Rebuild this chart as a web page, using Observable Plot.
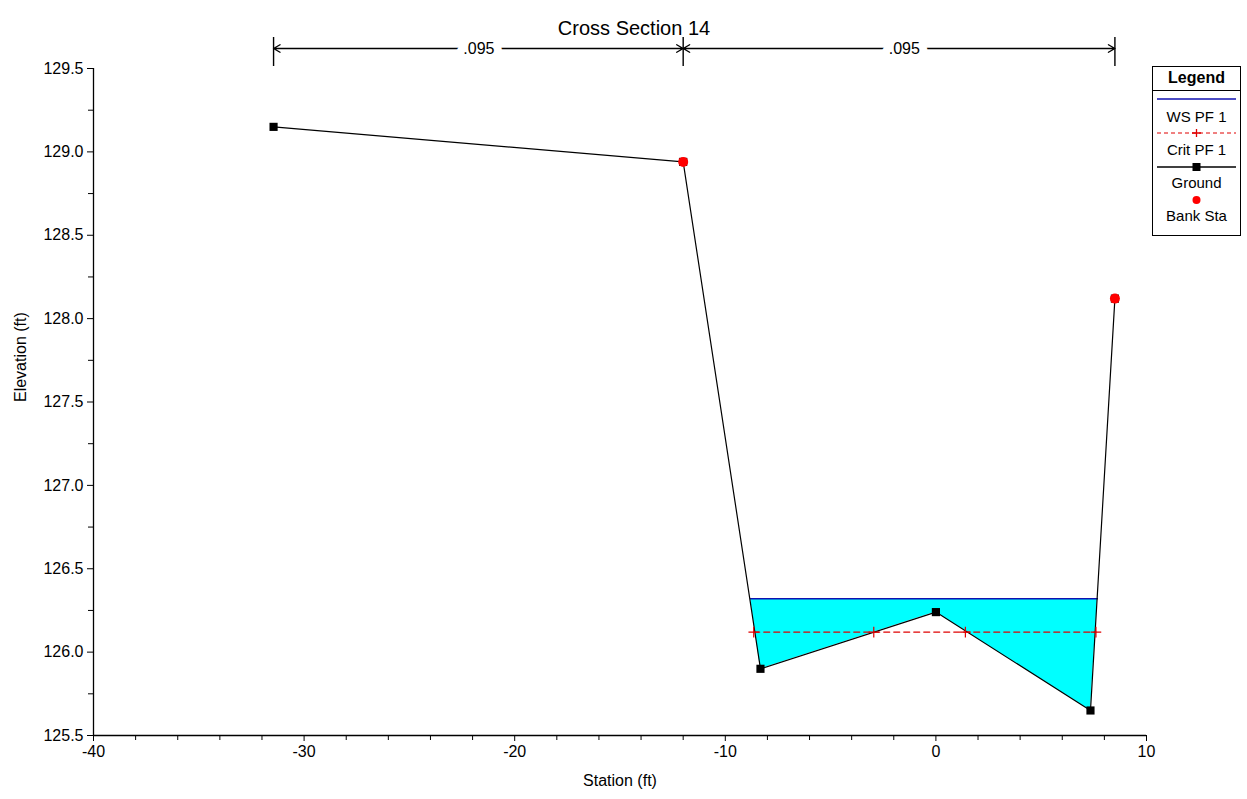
<!DOCTYPE html>
<html><head><meta charset="utf-8">
<script src="https://cdn.jsdelivr.net/npm/d3@7"></script>
<script src="https://cdn.jsdelivr.net/npm/@observablehq/plot@0.6"></script>
<style>
body{margin:0;background:#fff;font-family:"Liberation Sans",Arial,sans-serif;}
#wrap{position:relative;width:1247px;height:799px;}
#legend{position:absolute;left:1152px;top:66px;}
</style></head><body>
<div id="wrap"><div id="chart"></div><div id="legend"></div></div>
<script>
// ---- data ----
const title = "Cross Section 14";
const xLabel = "Station (ft)";
const yLabel = "Elevation (ft)";
const groundStation = [-31.45, -12.0, -8.33, 0.0, 7.34, 8.5];
const groundElev    = [129.15, 128.94, 125.90, 126.24, 125.65, 128.12];
const bankStation = [-12.0, 8.5];
const bankElev    = [128.94, 128.12];
const wsElev = 126.32;
const waterStation = [-8.8, -8.33, 0.0, 7.34, 7.67];
const waterBottom  = [126.32, 125.90, 126.24, 125.65, 126.32];
const critElev = 126.12;
const critStation = [-8.65, -2.95, 1.4, 7.6];
const nStation = [-31.45, -12.0, 8.5];
const nLabel = [".095", ".095"];
const nLabelStation = [-21.7, -1.5];
const xMajor = [-40, -30, -20, -10, 0, 10];
const xMinor = [-38, -36, -34, -32, -28, -26, -24, -22, -18, -16, -14, -12, -8, -6, -4, -2, 2, 4, 6, 8];
const yMajor = [125.5, 126.0, 126.5, 127.0, 127.5, 128.0, 128.5, 129.0, 129.5];
const yMinor = [125.75, 126.25, 126.75, 127.25, 127.75, 128.25, 128.75, 129.25];
const legendItems = ["WS PF 1", "Crit PF 1", "Ground", "Bank Sta"];

// ---- tables ----
const ground = groundStation.map((x, i) => ({x, y: groundElev[i]}));
const bank = bankStation.map((x, i) => ({x, y: bankElev[i]}));
const water = waterStation.map((x, i) => ({x, y1: waterBottom[i], y2: wsElev}));
const wsLine = [waterStation[0], waterStation[waterStation.length - 1]].map(x => ({x, y: wsElev}));
const critLine = [critStation[0], critStation[critStation.length - 1]].map(x => ({x, y: critElev}));
const critPts = critStation.map(x => ({x, y: critElev}));
const arrows = [];
nLabelStation.forEach((m, i) => {
  arrows.push({x1: m, x2: nStation[i]});
  arrows.push({x1: m, x2: nStation[i + 1]});
});
const nLabels = nLabel.map((t, i) => ({x: nLabelStation[i], t}));

const W = 1247, H = 799, mL = 93, mR = 101, mT = 68, mB = 64;
const frameH = H - mT - mB;
const yTop = yMajor[yMajor.length - 1];
const font = '"Liberation Sans", Arial, sans-serif';

const chart = Plot.plot({
  width: W, height: H,
  marginLeft: mL, marginRight: mR, marginTop: mT, marginBottom: mB,
  style: {fontFamily: font, fontSize: "16px", color: "#000", background: "#fff"},
  x: {domain: [xMajor[0], xMajor[xMajor.length - 1]]},
  y: {domain: [yMajor[0], yTop]},
  marks: [
    Plot.areaY(water, {x: "x", y1: "y1", y2: "y2", fill: "#00ffff", fillOpacity: 1}),
    Plot.line(wsLine, {x: "x", y: "y", stroke: "#1010b0", strokeWidth: 1.3}),
    Plot.line(critLine, {x: "x", y: "y", stroke: "#e00000", strokeWidth: 1.2, strokeDasharray: "6,4"}),
    Plot.line(ground, {x: "x", y: "y", stroke: "#000", strokeWidth: 1.2}),
    Plot.dot(ground, {x: "x", y: "y", symbol: "square", r: 4.6, fill: "#000"}),
    Plot.dot(critPts, {x: "x", y: "y", symbol: "plus", r: 3.5, stroke: "#e00000", strokeWidth: 1.2}),
    Plot.dot(bank, {x: "x", y: "y", r: 5, fill: "#ff0000"}),
    // axes
    Plot.axisX({ticks: xMajor, tickSize: 6, tickPadding: 4, tickFormat: d => String(d), fontSize: 16, label: null}),
    Plot.axisX({ticks: xMinor, tickSize: 5, tickFormat: () => "", label: null}),
    Plot.axisY({ticks: yMajor, tickSize: 6, tickPadding: 4, tickFormat: d3.format(".1f"), fontSize: 16, label: null}),
    Plot.axisY({ticks: yMinor, tickSize: 5, tickFormat: () => "", label: null}),
    Plot.ruleX([xMajor[0]], {stroke: "#000", strokeWidth: 1.3}),
    Plot.ruleY([yMajor[0]], {stroke: "#000", strokeWidth: 1.3}),
    Plot.text([xLabel], {frameAnchor: "bottom", dy: 50, fontSize: 16, text: d => d}),
    Plot.text([yLabel], {frameAnchor: "left", dx: -73, rotate: -90, fontSize: 16, text: d => d}),
    // title & roughness annotation
    Plot.text([title], {frameAnchor: "top", dy: -48, dx: 14, fontSize: 20, text: d => d}),
    Plot.ruleX(nStation, {x: d => d, stroke: "#000", strokeWidth: 1.4, insetTop: -31, insetBottom: frameH + 2}),
    Plot.arrow(arrows, {x1: "x1", x2: "x2", y1: () => yTop, y2: () => yTop, dy: -20, stroke: "#000", strokeWidth: 1.4, headLength: 8, headAngle: 60}),
    Plot.text(nLabels, {x: "x", y: () => yTop, dy: -20, text: "t", fontSize: 16, fill: "#000", stroke: "#fff", strokeWidth: 16, paintOrder: "stroke"})
  ]
});
document.getElementById("chart").appendChild(chart);

// ---- legend ----
const lg = d3.select("#legend").append("svg")
  .attr("width", 89).attr("height", 170)
  .style("font-family", font);
lg.append("rect").attr("x", 0.5).attr("y", 0.5).attr("width", 88).attr("height", 169)
  .attr("fill", "#fff").attr("stroke", "#000");
lg.append("text").attr("x", 44.5).attr("y", 17).attr("text-anchor", "middle")
  .attr("font-weight", "bold").attr("font-size", 16).text("Legend");
lg.append("line").attr("x1", 0).attr("x2", 89).attr("y1", 24.5).attr("y2", 24.5).attr("stroke", "#000");
const rowY = [33, 67, 101, 134];
const textY = [56, 89, 122, 155];
legendItems.forEach((t, i) => {
  lg.append("text").attr("x", 44.5).attr("y", textY[i]).attr("text-anchor", "middle")
    .attr("font-size", 15).text(t);
});
lg.append("line").attr("x1", 5).attr("x2", 84).attr("y1", rowY[0]).attr("y2", rowY[0]).attr("stroke", "#1010b0").attr("stroke-width", 1.3);
lg.append("line").attr("x1", 5).attr("x2", 84).attr("y1", rowY[1]).attr("y2", rowY[1]).attr("stroke", "#e00000").attr("stroke-dasharray", "4,3");
lg.append("path").attr("d", `M40,${rowY[1]}h9M44.5,${rowY[1]-4}v8`).attr("stroke", "#e00000").attr("stroke-width", 1.3);
lg.append("line").attr("x1", 5).attr("x2", 84).attr("y1", rowY[2]).attr("y2", rowY[2]).attr("stroke", "#000").attr("stroke-width", 1.3);
lg.append("rect").attr("x", 40.5).attr("y", rowY[2] - 4).attr("width", 8).attr("height", 8).attr("fill", "#000");
lg.append("circle").attr("cx", 44.5).attr("cy", rowY[3]).attr("r", 4).attr("fill", "#ff0000");
</script>
</body></html>
